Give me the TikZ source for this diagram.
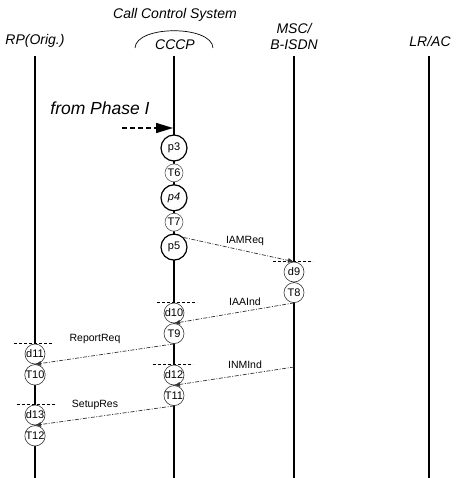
\documentclass[tikz,border=0pt]{standalone}
\usepackage{fontspec}
\setmainfont{Liberation Sans}
\usetikzlibrary{arrows.meta,positioning}

\begin{document}
\begin{tikzpicture}[
  x=1pt,y=-1pt,
  every node/.style={font=\fontsize{11}{12}\selectfont,inner sep=0pt},
  head/.style={font=\fontsize{14}{16}\selectfont\itshape},
  life/.style={line width=1.8pt},
  pst/.style={circle,draw,fill=white,line width=1.2pt,minimum size=26pt},
  tst/.style={circle,draw=black!65,fill=white,line width=0.6pt,minimum size=18pt},
  dst/.style={circle,draw=black!80,fill=white,line width=0.6pt,minimum size=20pt},
  msg/.style={-{Latex[length=6pt,width=5pt]},draw=black!80,line width=0.7pt,dash pattern=on 4pt off 1.5pt on 1pt off 1.5pt},
  mlabel/.style={font=\fontsize{10.5}{12}\selectfont},
  sync/.style={line width=0.8pt,dash pattern=on 3pt off 2pt},
  phase/.style={-{Triangle[length=17pt,width=10pt]},line width=1.5pt,dash pattern=on 5pt off 3pt}
]
\useasboundingbox (0,0) rectangle (462,478);

% headings
\node[head] (sys) at (175,15) {Call Control System};
\node[head] (rp) at (35,41) {RP(Orig.)};
\node[head] (cccp) at (175,45) {CCCP};
\node[head,align=center] (msc) at (294,36) {MSC/\\B-ISDN};
\node[head] (lr) at (430,41) {LR/AC};
\draw[line width=0.7pt] (135,48) .. controls (136,25) and (212,25) .. (213,48);

% lifelines
\foreach \x in {35,174,294,429}
  \draw[life] (\x,56) -- (\x,478);

% from phase I
\node[font=\fontsize{17.5}{20}\selectfont\itshape] (from) at (100,108) {from Phase I};
\coordinate (phs) at (122,128);
\coordinate (phe) at (173,128);
\draw[phase] (phs) -- (phe);

% CCCP states
\node[pst] (p3) at (174,148) {p3};
\node[tst,below=2pt of p3] (T6) {T6};
\node[pst,below=2pt of T6] (p4) {\itshape p4};
\node[tst,below=1.5pt of p4] (T7) {T7};
\node[pst,below=2pt of T7] (p5) {p5};

\node[dst] (d9) at (294,272) {d9};
\node[dst,below=0pt of d9] (T8) {T8};
\node[dst] (d10) at (174,313) {d10};
\node[dst,below=0pt of d10] (T9) {T9};
\node[dst] (d11) at (35,354) {d11};
\node[dst,below=0pt of d11] (T10) {T10};
\node[dst] (d12) at (174,375) {d12};
\node[dst,below=0pt of d12] (T11) {T11};
\node[dst] (d13) at (35,415) {d13};
\node[dst,below=0pt of d13] (T12) {T12};

% sync marks
\draw[sync] ([xshift=-21pt]d9.north) -- ([xshift=19pt]d9.north);
\draw[sync] ([xshift=-17pt]d10.north) -- ([xshift=23pt]d10.north);
\draw[sync] ([xshift=-21pt]d11.north) -- ([xshift=18pt]d11.north);
\draw[sync] ([xshift=-21pt]d12.north) -- ([xshift=19pt]d12.north);
\draw[sync] ([xshift=-18pt]d13.north) -- ([xshift=21pt]d13.north);

% messages
\coordinate (inm) at (294,367);
\draw[msg] (p5.north east) -- (d9.north);
\draw[msg] (T8.south) -- (d10.south);
\draw[msg] (T9.south) -- (d11.south);
\draw[msg] (inm) -- (d12.south);
\draw[msg] (T11.south) -- (d13.south);
\node[mlabel] (iam) at (245,241) {IAMReq};
\node[mlabel] (iaa) at (245,302) {IAAInd};
\node[mlabel] (rep) at (95,339) {ReportReq};
\node[mlabel] (inmlab) at (245,365) {INMInd};
\node[mlabel] (set) at (95,405) {SetupRes};
\end{tikzpicture}
\end{document}
